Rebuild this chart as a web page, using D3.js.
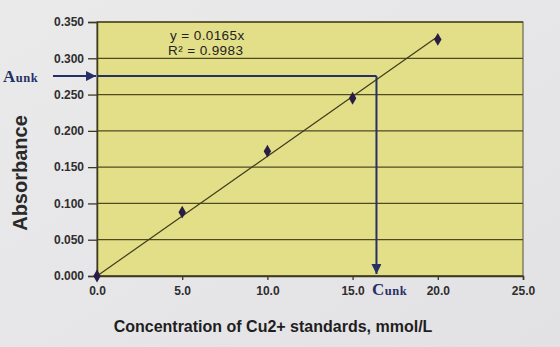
<!DOCTYPE html>
<html>
<head>
<meta charset="utf-8">
<script src="https://cdn.jsdelivr.net/npm/d3@7"></script>
<style>
  body { margin: 0; background: #e8e7e9; }
  svg { display: block; }
  .tick text { font-family: Arial, "Liberation Sans", sans-serif; font-weight: bold; font-size: 12px; fill: #2e2e2e; }
</style>
</head>
<body>
<div id="chart"></div>
<script>
// standards
const conc = [0, 5, 10, 15, 20];
const absorbance = [0, 0.088, 0.172, 0.245, 0.326];
const slope = 0.0165;
const r2 = 0.9983;
const yTicks = [0, 0.05, 0.1, 0.15, 0.2, 0.25, 0.3, 0.35];
const xTicks = [0, 5, 10, 15, 20, 25];
const aUnk = 0.2755;
const cUnk = 16.4;

const w = 560, h = 347;
const margin = { top: 22, right: 37, bottom: 71, left: 97 };

const svg = d3.select('#chart').append('svg')
    .attr('width', w)
    .attr('height', h);

// faint paper shading
const grad = svg.append('defs').append('linearGradient')
    .attr('id', 'paper').attr('x1', 0).attr('x2', 1).attr('y1', 0).attr('y2', 1);
grad.append('stop').attr('offset', '0%').attr('stop-color', '#ebeaeb');
grad.append('stop').attr('offset', '100%').attr('stop-color', '#e2e1e4');
svg.append('rect').attr('width', w).attr('height', h).attr('fill', 'url(#paper)');

const x = d3.scaleLinear().domain([0, 25]).range([margin.left, w - margin.right]);
const y = d3.scaleLinear().domain([0, 0.35]).range([h - margin.bottom, margin.top]);

// plot area
svg.append('rect')
    .attr('x', x(0)).attr('y', y(0.35))
    .attr('width', x(25) - x(0)).attr('height', y(0) - y(0.35))
    .attr('fill', '#e2df88')
    .attr('stroke', '#6b6a4a')
    .attr('stroke-width', 1.2);

// gridlines
svg.append('g').selectAll('line')
    .data(yTicks)
    .enter().append('line')
    .attr('x1', x(0)).attr('x2', x(25))
    .attr('y1', d => y(d)).attr('y2', d => y(d))
    .attr('stroke', '#4f4a22')
    .attr('stroke-width', 1.3);

const yAxis = svg.append('g')
    .attr('transform', `translate(${x(0)},0)`)
    .call(d3.axisLeft(y).tickValues(yTicks).tickFormat(d3.format('.3f')).tickSize(9).tickPadding(4));
yAxis.select('.domain').attr('stroke', '#3d3a20').attr('stroke-width', 1.5);
yAxis.selectAll('.tick line').attr('stroke', '#3d3a20').attr('stroke-width', 1.3);

const xAxis = svg.append('g')
    .attr('transform', `translate(0,${y(0)})`)
    .call(d3.axisBottom(x).tickValues(xTicks).tickFormat(d3.format('.1f')).tickSize(4).tickPadding(6));
xAxis.select('.domain').attr('stroke', '#3d3a20').attr('stroke-width', 1.5);
xAxis.selectAll('.tick line').attr('stroke', '#3d3a20').attr('stroke-width', 1.3);

// trendline
svg.append('line')
    .attr('x1', x(0)).attr('y1', y(0))
    .attr('x2', x(20)).attr('y2', y(slope * 20))
    .attr('stroke', '#3f3b1c')
    .attr('stroke-width', 1.2);

// points
svg.append('g').selectAll('path')
    .data(conc.map((c, i) => [c, absorbance[i]]))
    .enter().append('path')
    .attr('d', d3.symbol().type(d3.symbolDiamond).size(48))
    .attr('transform', d => `translate(${x(d[0])},${y(d[1])})`)
    .attr('fill', '#2a1c45');

// equation
const eq = svg.append('text')
    .attr('font-family', 'Arial, "Liberation Sans", sans-serif')
    .attr('font-size', 13.5)
    .attr('letter-spacing', 0.4)
    .attr('fill', '#222');
eq.append('tspan').attr('x', 170).attr('y', 40).text(`y = ${slope}x`);
eq.append('tspan').attr('x', 168).attr('y', 55).text(`R² = ${r2}`);

// unknown sample arrows
const navy = '#253066';
svg.append('defs').append('marker')
    .attr('id', 'head')
    .attr('viewBox', '0 0 10 10')
    .attr('refX', 10).attr('refY', 5)
    .attr('markerWidth', 10).attr('markerHeight', 10)
    .attr('markerUnits', 'userSpaceOnUse')
    .attr('orient', 'auto')
    .append('path').attr('d', 'M0,0 L10,5 L0,10 Z').attr('fill', navy);

svg.append('line')
    .attr('x1', 53).attr('x2', x(0) - 1)
    .attr('y1', y(aUnk)).attr('y2', y(aUnk))
    .attr('stroke', navy).attr('stroke-width', 2)
    .attr('marker-end', 'url(#head)');

svg.append('line')
    .attr('x1', x(0)).attr('x2', x(cUnk))
    .attr('y1', y(aUnk)).attr('y2', y(aUnk))
    .attr('stroke', navy).attr('stroke-width', 2);

svg.append('line')
    .attr('x1', x(cUnk)).attr('x2', x(cUnk))
    .attr('y1', y(aUnk)).attr('y2', y(0) - 2)
    .attr('stroke', navy).attr('stroke-width', 2)
    .attr('marker-end', 'url(#head)');

function unkLabel(letter, px, py) {
    const t = svg.append('text')
        .attr('x', px).attr('y', py)
        .attr('font-family', '"Liberation Serif", "DejaVu Serif", serif')
        .attr('font-weight', 'bold')
        .attr('letter-spacing', 0.5)
        .attr('fill', navy);
    t.append('tspan').attr('font-size', 17).text(letter);
    t.append('tspan').attr('font-size', 12.5).text('unk');
}
unkLabel('A', 3, 82);
unkLabel('C', 372, 295);

// axis titles
svg.append('text')
    .attr('transform', 'translate(27,173) rotate(-90)')
    .attr('text-anchor', 'middle')
    .attr('font-family', 'Arial, "Liberation Sans", sans-serif')
    .attr('font-weight', 'bold')
    .attr('font-size', 20)
    .attr('fill', '#2a2a2a')
    .text('Absorbance');

svg.append('text')
    .attr('x', 273).attr('y', 332)
    .attr('text-anchor', 'middle')
    .attr('font-family', 'Arial, "Liberation Sans", sans-serif')
    .attr('font-weight', 'bold')
    .attr('font-size', 16)
    .attr('fill', '#1e1e1e')
    .text('Concentration of Cu2+ standards, mmol/L');
</script>
</body>
</html>
